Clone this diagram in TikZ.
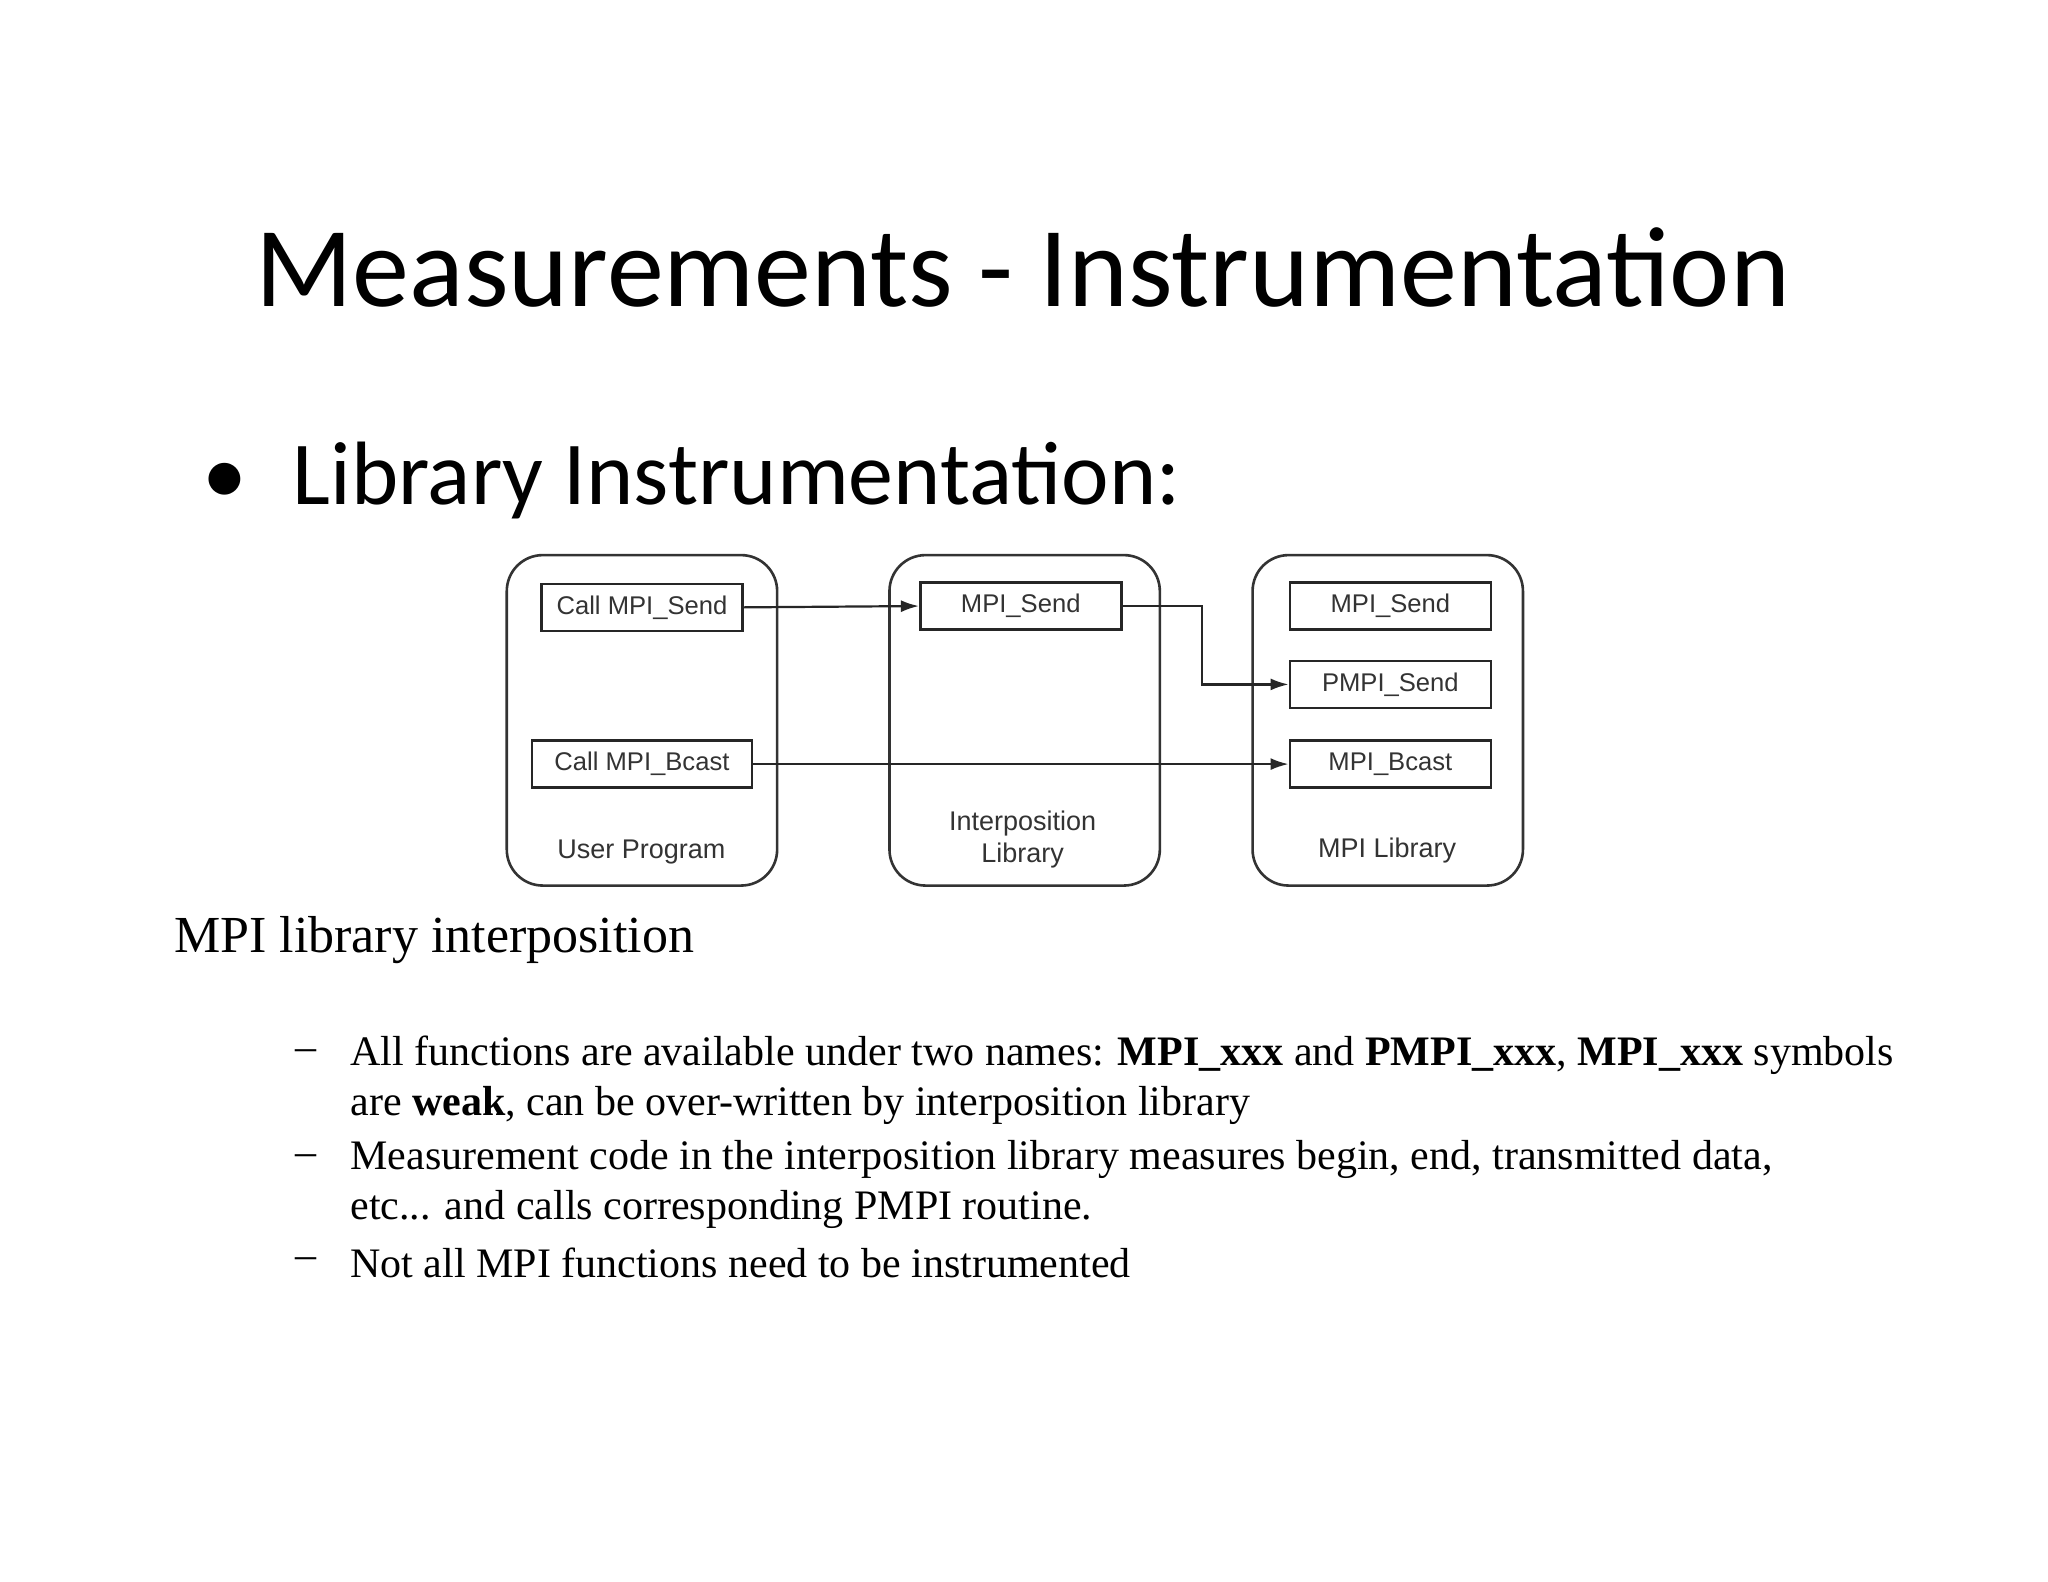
\documentclass[tikz,border=0pt]{standalone}
\usepackage{fontspec}
\setmainfont{Liberation Serif}
\newfontfamily\calib{Carlito}
\newfontfamily\arial{Liberation Sans}
\usetikzlibrary{arrows.meta}
\begin{document}
\begin{tikzpicture}[x=0.653pt,y=-0.653pt,
  cont/.style={draw=black!80,line width=1.3pt,rounded corners=18pt},
  fbox/.style={draw=black!85,line width=1.3pt,minimum width=100.5pt,minimum height=23.5pt,inner sep=0pt,font=\arial\fontsize{12.8}{14}\selectfont,text=black!80},
  lab/.style={font=\arial\fontsize{13.5}{16}\selectfont,text=black!80,align=center},
  arr/.style={-{Latex[length=9pt,width=6pt]},line width=1.1pt,black!85},
  bl/.style={anchor=west,font=\fontsize{21}{25}\selectfont,inner sep=0pt}]
\useasboundingbox[fill=white] (0,0) rectangle (1568,1211);
\node[font=\calib\fontsize{57}{60}\selectfont] (title) at (783,205) {Measurements - Instrumentation};
\node[anchor=west,font=\calib\fontsize{45}{50}\selectfont,inner sep=0pt] (sub) at (155,368) {\textbullet\hspace{0.5em}Library Instrumentation:};
\draw[cont] (388,425) rectangle (595,678);
\draw[cont] (681,425) rectangle (888,678);
\draw[cont] (959,425) rectangle (1166,678);
\node[fbox] (cs) at (491.5,465) {Call MPI\_Send};
\node[fbox,minimum width=110pt] (cb) at (491.5,585) {Call MPI\_Bcast};
\node[fbox] (ms) at (781.5,464) {MPI\_Send};
\node[fbox] (rs) at (1064.5,464) {MPI\_Send};
\node[fbox] (ps) at (1064.5,524) {PMPI\_Send};
\node[fbox] (rb) at (1064.5,585) {MPI\_Bcast};
\node[lab] (l1) at (491,652) {User Program};
\node[lab] (l2) at (783,643) {Interposition\\Library};
\node[lab] (l3) at (1062,651) {MPI Library};
\draw[arr] (cs.east) -- (ms.west);
\draw[arr] (ms.east) -- (920,464) |- (ps.west);
\draw[arr] (cb.east) -- (rb.west);
\node[anchor=west,font=\fontsize{26}{30}\selectfont,inner sep=0pt] (cap) at (133,720) {MPI library interposition};
\foreach \y in {808,888,967}{\node[bl] at (226,\y) {–};}
\node[bl] (t1) at (268,808) {All functions are available under two names: \textbf{MPI\_xxx} and \textbf{PMPI\_xxx}, \textbf{MPI\_xxx} symbols};
\node[bl] (t2) at (268,846) {are \textbf{weak}, can be over-written by interposition library};
\node[bl] (t3) at (268,888) {Measurement code in the interposition library measures begin, end, transmitted data,};
\node[bl] (t4) at (268,926) {etc... and calls corresponding PMPI routine.};
\node[bl] (t5) at (268,967) {Not all MPI functions need to be instrumented};
\end{tikzpicture}
\end{document}
